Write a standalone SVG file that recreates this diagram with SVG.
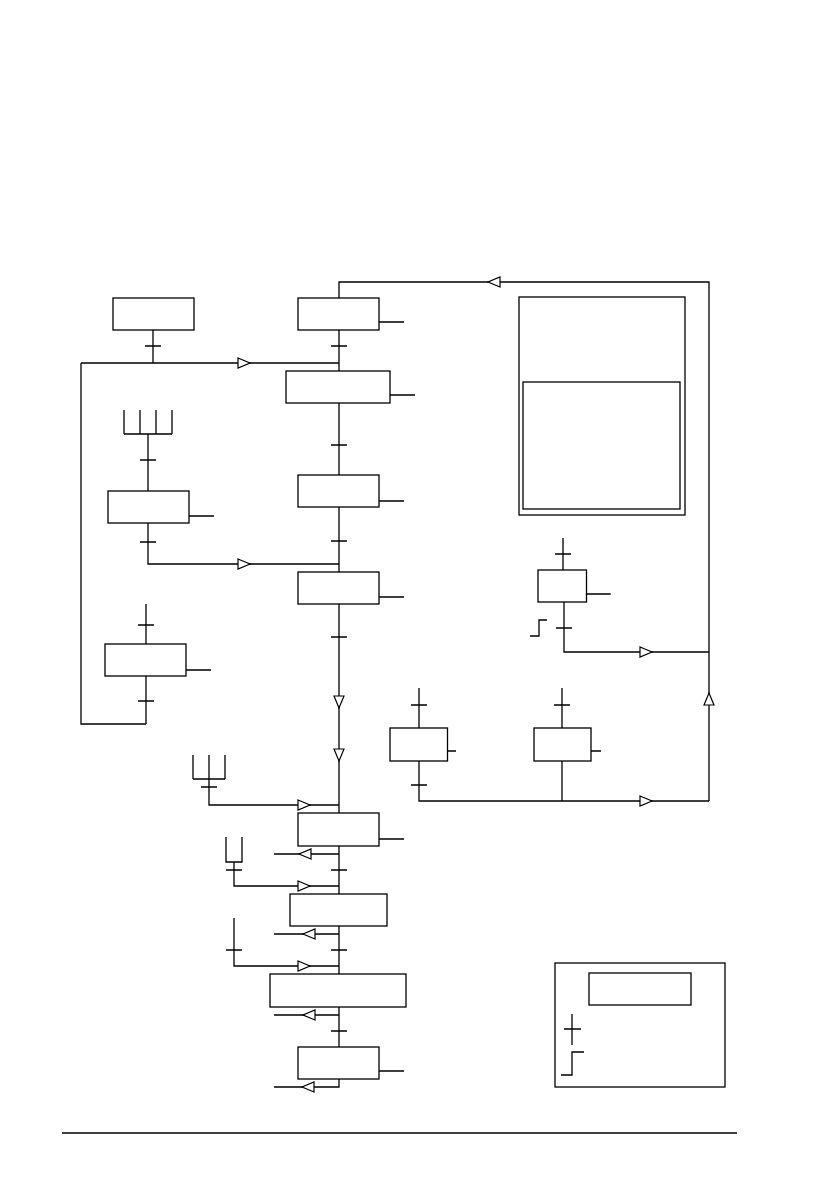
<svg xmlns="http://www.w3.org/2000/svg" xmlns:xlink="http://www.w3.org/1999/xlink" width="838" height="1190" viewBox="0 0 838 1190">
<style>
.b{fill:#fff;stroke:#000;stroke-width:1.3}
.l{fill:none;stroke:#000;stroke-width:1.3}
.a{fill:#fff;stroke:#000;stroke-width:1.2}
</style>
<defs>
<path id="tri" d="M0,-5 L12,0 L0,5 Z"/>
</defs>
<rect width="838" height="1190" fill="#fff"/>
<g id="connectors" class="l">
<path d="M339,298 V282 H709 V801 M419,761 V801 H709 M562,761 V801 M419,688 V728 M562,688 V728"/>
<path d="M339,330 V371 M339,403 V475 M339,507 V572 M339,604 V813 M339,846 V894 M339,926 V974 M339,1007 V1047 M339,1079 V1087 H274"/>
<path d="M274,854 H339 M274,934 H339 M274,1015 H339"/>
<path d="M153,330 V363 M81,363 H339 M81,363 V724 H146 M146,604 V644 M146,676 V724"/>
<path d="M124,410 V434 M140,410 V434 M156,410 V434 M172,410 V434 M124,434 H172 M148,434 V491 M148,523 V564 H339"/>
<path d="M193,755 V779 M209,755 V779 M225,755 V779 M193,779 H225 M209,779 V805 H339"/>
<path d="M226,837 V862 H242 V837 M234,862 V886 H339 M234,918 V966 H339"/>
<path d="M563,538 V570 M564,602 V652 H709 M530,636 H539 V620 H547"/>
<path d="M379,322 H404 M390,395 H415 M189,516 H214 M379,501 H404 M379,597 H404 M186,670 H211 M586.7,594 H610.7 M447.7,751 H456 M591,751 H601 M379,839 H404 M379,1071 H404"/>
<path d="M145,346 H161 M331,346 H347 M331,445 H347 M140,460 H156 M140,542 H156 M331,541 H347 M331,637 H347 M138,625 H154 M138,701 H154 M555,554 H571 M556,628 H572 M411,705 H427 M411,785 H427 M554,705 H570 M201,787 H217 M331,870 H347 M226,870 H242 M226,950 H242 M331,950 H347 M331,1031 H347"/>
<path d="M62,1133 H737"/>
</g>
<g id="arrows" class="a">
<use xlink:href="#tri" transform="translate(238,363)"/>
<use xlink:href="#tri" transform="translate(238,564)"/>
<use xlink:href="#tri" transform="translate(339,696) rotate(90)"/>
<use xlink:href="#tri" transform="translate(339,749) rotate(90)"/>
<use xlink:href="#tri" transform="translate(298,805)"/>
<use xlink:href="#tri" transform="translate(311,854) rotate(180)"/>
<use xlink:href="#tri" transform="translate(298,886)"/>
<use xlink:href="#tri" transform="translate(315,934) rotate(180)"/>
<use xlink:href="#tri" transform="translate(298,966)"/>
<use xlink:href="#tri" transform="translate(315,1015) rotate(180)"/>
<use xlink:href="#tri" transform="translate(314,1087) rotate(180)"/>
<use xlink:href="#tri" transform="translate(640,652)"/>
<use xlink:href="#tri" transform="translate(640,801)"/>
<use xlink:href="#tri" transform="translate(709,705) rotate(-90)"/>
<use xlink:href="#tri" transform="translate(500,282) rotate(180)"/>
</g>
<g id="nodeA"><rect class="b" x="113" y="298" width="81" height="32"/></g>
<g id="nodeB"><rect class="b" x="298" y="298" width="81" height="32"/></g>
<g id="nodeC"><rect class="b" x="286" y="371" width="104" height="32"/></g>
<g id="nodeD"><rect class="b" x="108" y="491" width="81" height="32"/></g>
<g id="nodeE"><rect class="b" x="298" y="475" width="81" height="32"/></g>
<g id="nodeF"><rect class="b" x="298" y="572" width="81" height="32"/></g>
<g id="nodeG"><rect class="b" x="105" y="644" width="81" height="32"/></g>
<g id="nodeS"><rect class="b" x="538" y="570" width="48.5" height="32"/></g>
<g id="nodeH"><rect class="b" x="390" y="728" width="57.5" height="33"/></g>
<g id="nodeI"><rect class="b" x="534" y="728" width="57" height="33"/></g>
<g id="nodeJ"><rect class="b" x="298" y="813" width="81" height="33"/></g>
<g id="nodeK"><rect class="b" x="290" y="894" width="97" height="32"/></g>
<g id="nodeL"><rect class="b" x="270" y="974" width="136" height="33"/></g>
<g id="nodeM"><rect class="b" x="298" y="1047" width="81" height="32"/></g>
<g id="panel">
<rect class="b" x="519" y="297" width="166" height="218"/>
<rect class="b" x="523" y="382" width="157" height="127"/>
</g>
<g id="legend">
<rect class="b" x="555" y="963" width="170" height="124"/>
<rect class="b" x="589" y="973" width="102" height="32"/>
<path class="l" d="M572,1014 V1045 M564,1029 H581 M561,1075 H572 V1052 H584"/>
</g>
</svg>
